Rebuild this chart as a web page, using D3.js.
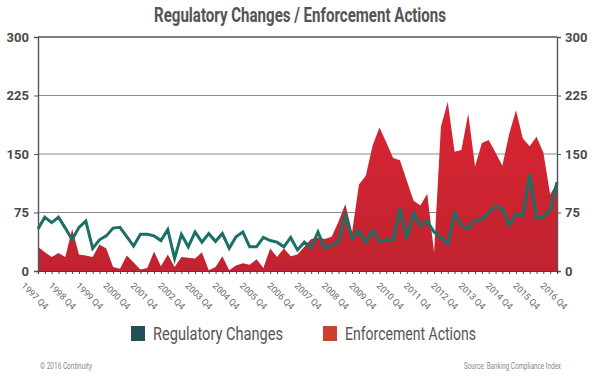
<!DOCTYPE html>
<html>
<head>
<meta charset="utf-8">
<script src="https://cdn.jsdelivr.net/npm/d3@7"></script>
<style>
  body { margin: 0; background: #fff; }
  svg { display: block; font-family: Roboto, "Noto Sans", sans-serif; }
</style>
</head>
<body>
<svg id="chart" width="600" height="391"></svg>
<script>
// quarterly series, 1997 Q4 .. 2016 Q4
const quarters = [
  "1997 Q4",
  "1998 Q1","1998 Q2","1998 Q3","1998 Q4","1999 Q1","1999 Q2","1999 Q3","1999 Q4",
  "2000 Q1","2000 Q2","2000 Q3","2000 Q4","2001 Q1","2001 Q2","2001 Q3","2001 Q4",
  "2002 Q1","2002 Q2","2002 Q3","2002 Q4","2003 Q1","2003 Q2","2003 Q3","2003 Q4",
  "2004 Q1","2004 Q2","2004 Q3","2004 Q4","2005 Q1","2005 Q2","2005 Q3","2005 Q4",
  "2006 Q1","2006 Q2","2006 Q3","2006 Q4","2007 Q1","2007 Q2","2007 Q3","2007 Q4",
  "2008 Q1","2008 Q2","2008 Q3","2008 Q4","2009 Q1","2009 Q2","2009 Q3","2009 Q4",
  "2010 Q1","2010 Q2","2010 Q3","2010 Q4","2011 Q1","2011 Q2","2011 Q3","2011 Q4",
  "2012 Q1","2012 Q2","2012 Q3","2012 Q4","2013 Q1","2013 Q2","2013 Q3","2013 Q4",
  "2014 Q1","2014 Q2","2014 Q3","2014 Q4","2015 Q1","2015 Q2","2015 Q3","2015 Q4",
  "2016 Q1","2016 Q2","2016 Q3","2016 Q4"
];

const regulatoryChanges = [
  54, 69, 62, 69, 55, 40, 56, 64, 29, 40,
  45, 55, 56, 44, 32, 47, 47, 45, 39, 53,
  16, 47, 31, 50, 37, 48, 38, 48, 29, 44,
  50, 31, 31, 43, 39, 37, 31, 43, 27, 37,
  30, 50, 29, 33, 37, 72, 42, 51, 37, 52,
  38, 40, 40, 80, 42, 74, 58, 64, 50, 43,
  35, 74, 59, 54, 65, 66, 75, 83, 80, 59,
  73, 71, 124, 68, 69, 78, 114
];

const enforcementActions = [
  31, 24, 18, 23, 18, 54, 21, 20, 18, 34,
  29, 5, 3, 20, 11, 2, 4, 25, 6, 21,
  5, 18, 17, 16, 24, 1, 5, 19, 1, 7,
  10, 8, 15, 4, 29, 18, 29, 19, 21, 31,
  41, 43, 41, 44, 63, 86, 50, 111, 122, 161,
  184, 165, 145, 142, 116, 90, 84, 99, 24, 185,
  217, 153, 155, 202, 134, 164, 168, 152, 135, 176,
  206, 170, 160, 172, 152, 98, 113
];

const yTicks = [0, 75, 150, 225, 300];
const xTickLabels = [
  "1997 Q4","1998 Q4","1999 Q4","2000 Q4","2001 Q4","2002 Q4","2003 Q4",
  "2004 Q4","2005 Q4","2006 Q4","2007 Q4","2008 Q4","2009 Q4","2010 Q4",
  "2011 Q4","2012 Q4","2013 Q4","2014 Q4","2015 Q4","2016 Q4"
];
const seriesNames = ["Regulatory Changes", "Enforcement Actions"];

const svg = d3.select("#chart");
const plot = { left: 38, right: 557, top: 37, bottom: 271 };

const x = d3.scalePoint().domain(quarters).range([plot.left, plot.right]);
const y = d3.scaleLinear().domain([0, 300]).range([plot.bottom, plot.top]);

// title
svg.append("text")
  .attr("x", 300).attr("y", 22)
  .attr("text-anchor", "middle")
  .attr("textLength", 292).attr("lengthAdjust", "spacingAndGlyphs")
  .attr("font-size", 20).attr("font-weight", 700)
  .attr("fill", "#545454")
  .text("Regulatory Changes / Enforcement Actions");

// gridlines
svg.append("g")
  .selectAll("line")
  .data(yTicks.filter(d => d > 0))
  .enter()
  .append("line")
  .attr("x1", plot.left).attr("x2", plot.right)
  .attr("y1", d => y(d)).attr("y2", d => y(d))
  .attr("stroke", d => d === 300 ? "#555" : "#8a8a8a")
  .attr("stroke-width", d => d === 300 ? 1.6 : 1);

// red gradient
const defs = svg.append("defs");
const grad = defs.append("linearGradient")
  .attr("id", "redFill").attr("x1", 0).attr("y1", 0).attr("x2", 0).attr("y2", 1);
grad.append("stop").attr("offset", "0%").attr("stop-color", "#da2431");
grad.append("stop").attr("offset", "100%").attr("stop-color", "#c02430");

const rows = quarters.map((q, i) => ({ q, reg: regulatoryChanges[i], enf: enforcementActions[i] }));

svg.append("path")
  .datum(rows)
  .attr("fill", "url(#redFill)")
  .attr("d", d3.area()
    .x(d => x(d.q))
    .y0(y(0))
    .y1(d => y(d.enf)));

svg.append("path")
  .datum(rows)
  .attr("fill", "none")
  .attr("stroke", "#1a7066")
  .attr("stroke-width", 3)
  .attr("stroke-linejoin", "miter")
  .attr("d", d3.line()
    .x(d => x(d.q))
    .y(d => y(d.reg)));

// axes
const yLeft = svg.append("g")
  .attr("transform", `translate(${plot.left},0)`)
  .call(d3.axisLeft(y).tickValues(yTicks).tickSize(4).tickPadding(5));
const yRight = svg.append("g")
  .attr("transform", `translate(${plot.right},0)`)
  .call(d3.axisRight(y).tickValues(yTicks).tickSize(4).tickPadding(4));
[yLeft, yRight].forEach(g => {
  g.select(".domain").attr("stroke", "#555").attr("stroke-width", 1.4);
  g.selectAll(".tick line").attr("stroke", "#555");
  g.selectAll("text")
    .attr("font-size", 13).attr("font-weight", 700)
    .attr("fill", "#4a4a4a")
    .attr("font-family", "Roboto, sans-serif");
});

const xAxis = svg.append("g")
  .attr("transform", `translate(0,${plot.bottom})`)
  .call(d3.axisBottom(x).tickSize(3).tickFormat(""));
xAxis.select(".domain").attr("stroke", "#444").attr("stroke-width", 1.2);
xAxis.selectAll(".tick line").attr("stroke", "#444");

svg.append("g")
  .selectAll("text")
  .data(xTickLabels)
  .enter()
  .append("text")
  .attr("transform", d => `translate(${x(d) - 3},296) rotate(45)`)
  .attr("text-anchor", "middle")
  .attr("dy", "0.35em")
  .attr("font-size", 9)
  .attr("fill", "#666")
  .text(d => d);

// legend
const legend = svg.append("g");
const legendColors = ["#234f58", "#c9412f"];
const legendX = [131, 323];
const legendTextX = [153, 345];
const legendW = [130, 131];
seriesNames.forEach((name, i) => {
  legend.append("rect")
    .attr("x", legendX[i]).attr("y", 326)
    .attr("width", 14).attr("height", 15)
    .attr("fill", legendColors[i]);
  legend.append("text")
    .attr("x", legendTextX[i]).attr("y", 340)
    .attr("textLength", legendW[i]).attr("lengthAdjust", "spacingAndGlyphs")
    .attr("font-size", 19)
    .attr("fill", "#555")
    .text(name);
});

// footer
svg.append("text")
  .attr("x", 40).attr("y", 369)
  .attr("textLength", 52).attr("lengthAdjust", "spacingAndGlyphs")
  .attr("font-size", 8.5).attr("fill", "#888")
  .text("\u00a9 2016 Continuity");
svg.append("text")
  .attr("x", 464).attr("y", 369)
  .attr("textLength", 97).attr("lengthAdjust", "spacingAndGlyphs")
  .attr("font-size", 8.5).attr("fill", "#888")
  .text("Source: Banking Compliance Index");
</script>
</body>
</html>
